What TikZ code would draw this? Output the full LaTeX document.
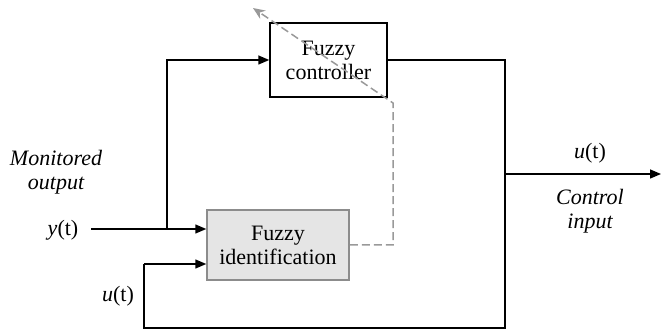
\documentclass[tikz,border=0pt]{standalone}
\usepackage{fontspec}
\setmainfont{Liberation Serif}
\usetikzlibrary{arrows.meta}
\begin{document}
\begin{tikzpicture}[x=1pt,y=-1pt,
  font=\fontsize{22}{24}\selectfont,
  line width=1.5pt,
  arr/.style={-{Triangle[length=11pt,width=9pt]}},
  blockbox/.style={draw, align=center, inner sep=0pt},
  dasharr/.style={draw=black!40, dash pattern=on 8pt off 4pt, -{Stealth[length=12pt,width=10pt]}},
  lbl/.style={align=center, inner sep=0pt}]
\useasboundingbox (0,0) rectangle (662,331);

% blocks
\node[blockbox, minimum width=117pt, minimum height=74pt] (fc) at (328.5,60) {Fuzzy\\controller};
\node[blockbox, draw=black!45, fill=black!10, minimum width=142pt, minimum height=70pt] (idb) at (278,245) {Fuzzy\\identification};

% labels
\node[lbl, font=\fontsize{22}{24}\selectfont\itshape] (mon) at (56,172) {Monitored\\output};
\node[lbl] (ylab) at (63,230) {\textit{y}(t)};
\node[lbl] (ulab) at (118,296) {\textit{u}(t)};
\node[lbl] (uout) at (590,153) {\textit{u}(t)};
\node[lbl, font=\fontsize{22}{24}\selectfont\itshape] (ctl) at (590,211) {Control\\input};

% junction and corner points
\coordinate (yin) at (91,229);
\coordinate (split) at (167,229);
\coordinate (tap) at (505,174);
\coordinate (br) at (505,328);
\coordinate (bl) at (144,328);
\coordinate (uin) at (144,264);
\coordinate (out) at (661,174);
\coordinate (dk) at (393,103);
\coordinate (dtip) at (253,8);

% signal paths
\draw[arr] (yin) -- (yin -| idb.west);
\draw[arr] (split) |- (fc.west);
\draw (fc.east) -| (br) -- (bl) -- (uin);
\draw[arr] (uin) -- (uin -| idb.west);
\draw[arr] (tap) -- (out);

% adaptation path
\draw[dasharr] (idb.east) -| (dk) -- (dtip);
\end{tikzpicture}
\end{document}
